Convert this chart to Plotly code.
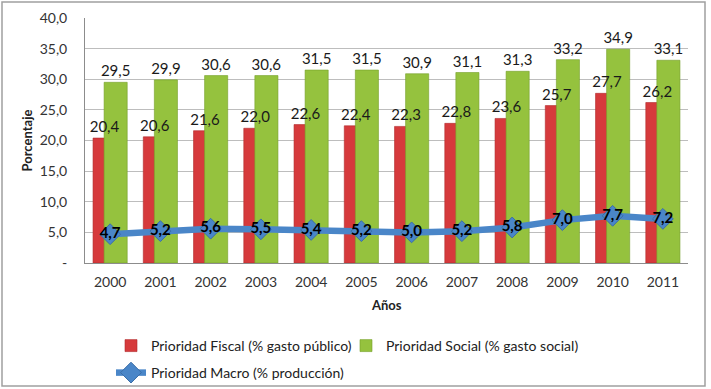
import plotly.graph_objects as go

years = ["2000", "2001", "2002", "2003", "2004", "2005", "2006", "2007", "2008", "2009", "2010", "2011"]
fiscal = [20.4, 20.6, 21.6, 22.0, 22.6, 22.4, 22.3, 22.8, 23.6, 25.7, 27.7, 26.2]
social = [29.5, 29.9, 30.6, 30.6, 31.5, 31.5, 30.9, 31.1, 31.3, 33.2, 34.9, 33.1]
macro = [4.7, 5.2, 5.6, 5.5, 5.4, 5.2, 5.0, 5.2, 5.8, 7.0, 7.7, 7.2]
ytick_vals = [0, 5, 10, 15, 20, 25, 30, 35, 40]
ytick_text = ["-", "5,0", "10,0", "15,0", "20,0", "25,0", "30,0", "35,0", "40,0"]

FONT = "Lato"
W, H = 711, 389
L, R, T, B = 85, 23, 18, 126
pw, ph = W - L - R, H - T - B

def px_x(p):
    return (p - L) / pw

def px_y(p):
    return (H - B - p) / ph

label_font = dict(family=FONT, size=15, color="#1a1a1a")

fig = go.Figure()
fig.add_trace(go.Bar(
    x=years, y=fiscal, name="Prioridad Fiscal (% gasto público)",
    marker=dict(color="#D63A3C", line=dict(color="#B02A2C", width=0.6)),
    width=0.46, offset=-0.34, hoverinfo="skip",
    legend="legend",
))
fig.add_trace(go.Bar(
    x=years, y=social, name="Prioridad Social (% gasto social)",
    marker=dict(color="#95C23E", line=dict(color="#75A02A", width=0.6)),
    width=0.46, offset=-0.12,
    text=social, texttemplate="%{y:.1f}", textposition="outside",
    textfont=label_font, cliponaxis=False, constraintext="none",
    legend="legend",
))
# transparent copy of the fiscal bars, drawn last so its labels sit on top
fig.add_trace(go.Bar(
    x=years, y=fiscal, showlegend=False,
    marker=dict(color="rgba(0,0,0,0)", line=dict(width=0)),
    width=0.46, offset=-0.34, hoverinfo="skip",
    text=fiscal, texttemplate="%{y:.1f}", textposition="outside",
    textfont=label_font, cliponaxis=False, constraintext="none",
))
fig.add_trace(go.Scatter(
    x=years, y=macro, name="Prioridad Macro (% producción)",
    mode="lines+markers+text",
    line=dict(color="#4A86C8", width=6.5),
    marker=dict(symbol="diamond", size=16, color="#4A86C8", line=dict(color="#3A6EA8", width=1)),
    text=macro, texttemplate="<b>%{y:.1f}</b>", textposition="middle center",
    textfont=dict(family=FONT, size=15, color="#000000"), cliponaxis=False,
    legend="legend2",
))

fig.update_layout(
    width=W, height=H,
    margin=dict(l=L, r=R, t=T, b=B, autoexpand=False),
    paper_bgcolor="white", plot_bgcolor="white",
    separators=",.",
    barmode="overlay",
    font=dict(family=FONT, size=13, color="#222222"),
    showlegend=True,
    legend=dict(orientation="h", x=px_x(111), y=px_y(330), xanchor="left", yanchor="top",
                entrywidth=190, font=dict(family=FONT, size=14, color="#222222"),
                bgcolor="rgba(0,0,0,0)"),
    legend2=dict(orientation="h", x=px_x(111), y=px_y(357), xanchor="left", yanchor="top",
                 font=dict(family=FONT, size=14, color="#222222"),
                 bgcolor="rgba(0,0,0,0)"),
    xaxis=dict(
        type="category", range=[-0.5, 11.5], showgrid=False, showline=True,
        linecolor="#8C8C8C", linewidth=1,
        ticks="", tickfont=dict(family=FONT, size=14, color="#333333"),
        ticklabelstandoff=6,
    ),
    yaxis=dict(
        range=[0, 40], tickvals=ytick_vals, ticktext=ytick_text,
        showgrid=True, gridcolor="#BDBDBD", gridwidth=1,
        showline=True, linecolor="#8C8C8C", linewidth=1,
        ticks="", tickfont=dict(family=FONT, size=14, color="#333333"),
        ticklabelstandoff=14, zeroline=False,
    ),
    annotations=[
        dict(text="<b>Porcentaje</b>", x=px_x(26), y=0.5, xref="paper", yref="paper",
             textangle=-90, showarrow=False, xanchor="center", yanchor="middle",
             font=dict(family=FONT, size=13, color="#222222")),
        dict(text="<b>Años</b>", x=0.5, y=px_y(305), xref="paper", yref="paper",
             showarrow=False, xanchor="center", yanchor="middle",
             font=dict(family=FONT, size=13, color="#222222")),
    ],
    shapes=[
        dict(type="rect", xref="paper", yref="paper",
             x0=px_x(2), x1=px_x(705), y0=px_y(386), y1=px_y(2),
             line=dict(color="#A0A0A0", width=1.5), fillcolor="rgba(0,0,0,0)", layer="below"),
    ],
)

fig.write_html("out.html")
